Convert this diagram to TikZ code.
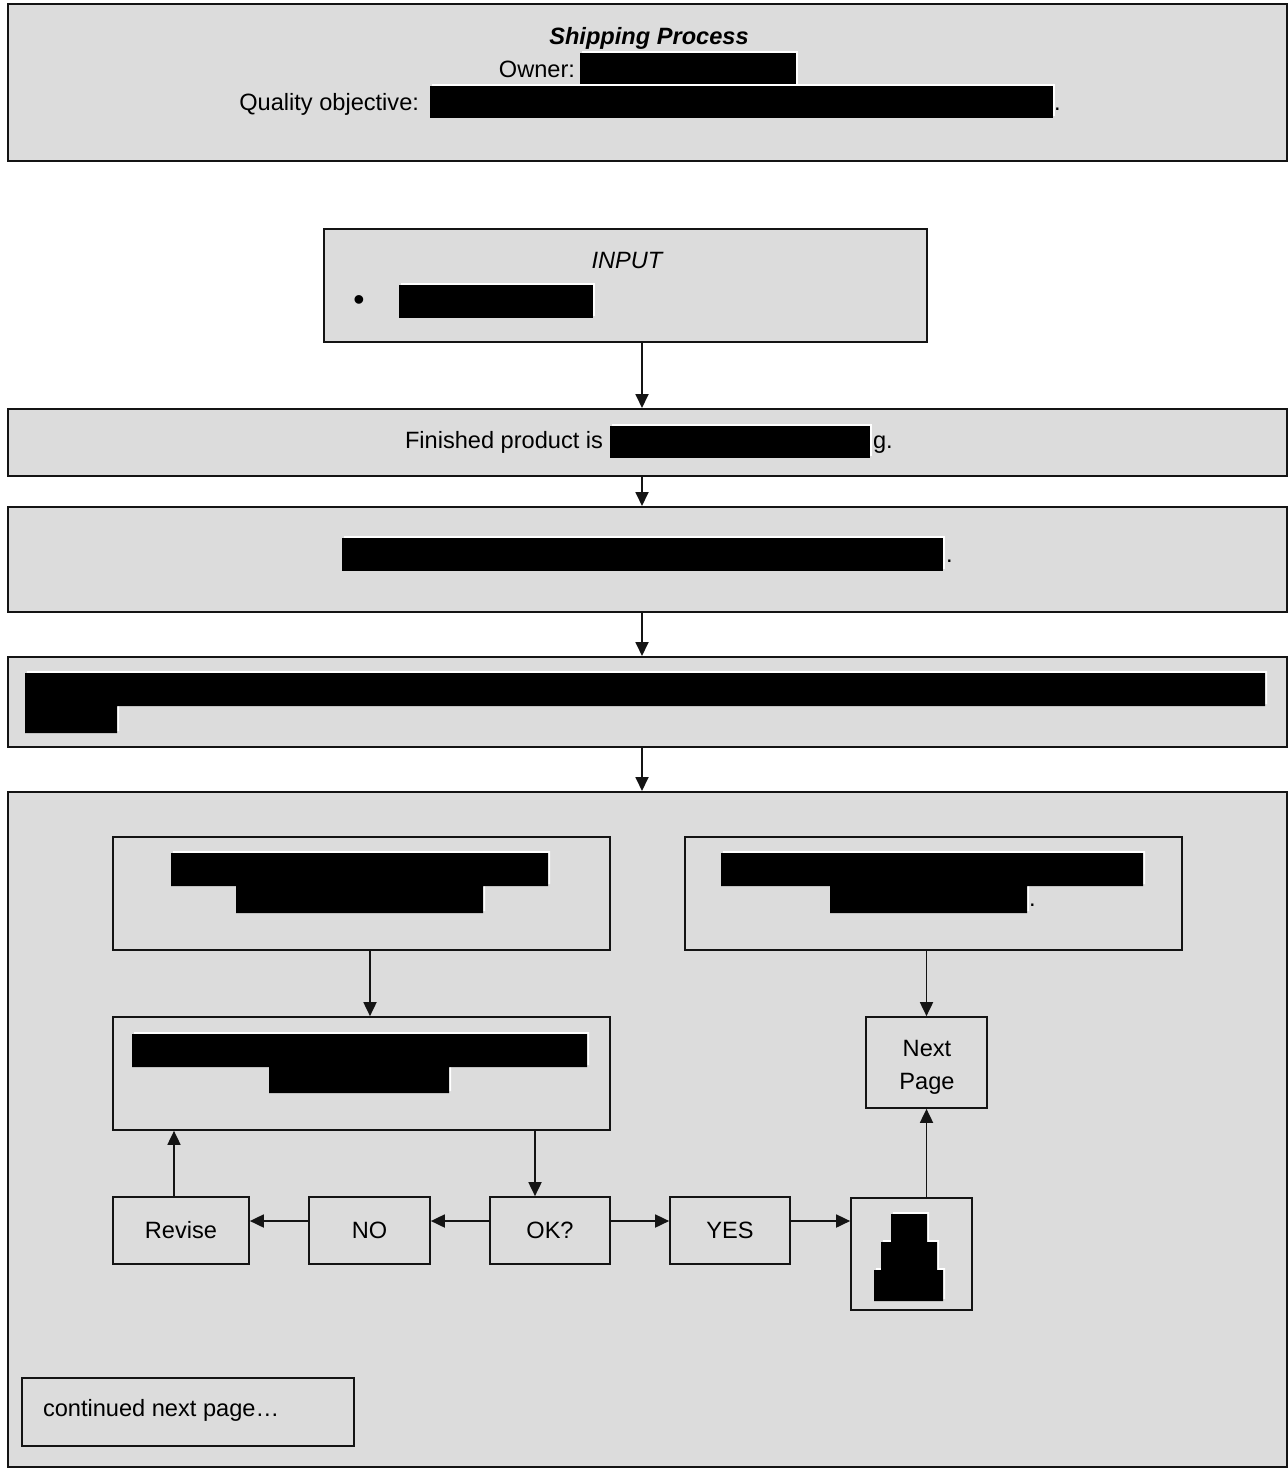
\documentclass[tikz,border=0pt]{standalone}
\usepackage{fontspec}
\setmainfont{Liberation Sans}
\usetikzlibrary{arrows.meta}
\definecolor{panel}{HTML}{DCDCDC}
\definecolor{edge}{HTML}{141414}

% blacked-out text: a white sliver peeks out at the top and right
\newcommand\blot[1]{\fill[white,xshift=2pt,yshift=2pt] #1; \fill[black] #1;}

\begin{document}
\begin{tikzpicture}[x=1pt,y=-1pt,
  every node/.style={font=\fontsize{23.6}{28}\selectfont},
  panelbox/.style={draw=edge, fill=panel, line width=2pt, rectangle, inner sep=0pt},
  flowbox/.style={draw=edge, fill=panel, line width=1.7pt, rectangle, inner sep=0pt},
  txt/.style={inner sep=0pt, outer sep=0pt},
  flowarrow/.style={draw=edge, line width=1.8pt, -{Triangle[length=14pt,width=13pt]}}]
\useasboundingbox (0,0) rectangle (1288,1468);

% header
\node[panelbox, minimum width=1279pt, minimum height=157pt] (header) at (647.5,82.5) {};
\node[txt, anchor=base, font=\fontsize{23.6}{28}\selectfont\bfseries\itshape] (title) at (649,44) {Shipping Process};
\node[txt, anchor=base east] (owner) at (575,77) {Owner:};
\node[txt, anchor=base east] (quality) at (419,110) {Quality objective:};
\node[txt, anchor=base west] (qualitydot) at (1054,110) {.};
\blot{(580,53) rectangle (796,86)}
\blot{(430,86) rectangle (1053,118)}

% input
\node[panelbox, minimum width=603pt, minimum height=113pt] (input) at (625.5,285.5) {};
\node[txt, anchor=base, font=\fontsize{23.6}{28}\selectfont\itshape] (inputlbl) at (627,268) {INPUT};
\node[txt, anchor=base, font=\fontsize{32}{36}\selectfont] (bullet) at (359,310) {•};
\blot{(399,285) rectangle (593,318)}

% process steps
\node[panelbox, minimum width=1279pt, minimum height=67pt] (step1) at (647.5,442.5) {};
\node[txt, anchor=base west] (step1a) at (405,448) {Finished product is};
\node[txt, anchor=base west] (step1b) at (873,448) {g.};
\blot{(610,426) rectangle (870,458)}

\node[panelbox, minimum width=1279pt, minimum height=105pt] (step2) at (647.5,559.5) {};
\node[txt, anchor=base west] (step2dot) at (946,562) {.};
\blot{(342,538) rectangle (943,571)}

\node[panelbox, minimum width=1279pt, minimum height=90pt] (step3) at (647.5,702) {};
\blot{(25,673) rectangle (1265,706) (25,705) rectangle (117,733)}

\node[panelbox, minimum width=1279pt, minimum height=675pt] (main) at (647.5,1129.5) {};

% inner flow
\node[flowbox, minimum width=497pt, minimum height=113pt] (boxA) at (361.5,893.5) {};
\blot{(171,853) rectangle (548,886) (236,885) rectangle (483,913)}

\node[flowbox, minimum width=497pt, minimum height=113pt] (boxB) at (933.5,893.5) {};
\node[txt, anchor=base west] (boxBdot) at (1029,906) {.};
\blot{(721,853) rectangle (1143,886) (830,885) rectangle (1027,913)}

\node[flowbox, minimum width=497pt, minimum height=113pt] (boxC) at (361.5,1073.5) {};
\blot{(132,1034) rectangle (587,1067) (269,1066) rectangle (449,1093)}

\node[flowbox, minimum width=121pt, minimum height=91pt] (next) at (926.5,1062.5) {};
\node[txt, anchor=base] (nextA) at (927,1056) {Next};
\node[txt, anchor=base] (nextB) at (927,1089) {Page};

\node[flowbox, minimum width=136pt, minimum height=67pt] (revise) at (181,1230.5) {};
\node[flowbox, minimum width=121pt, minimum height=67pt] (no) at (369.5,1230.5) {};
\node[flowbox, minimum width=120pt, minimum height=67pt] (ok) at (550,1230.5) {};
\node[flowbox, minimum width=120pt, minimum height=67pt] (yes) at (730,1230.5) {};
\node[txt, anchor=base] (reviselbl) at (181,1238) {Revise};
\node[txt, anchor=base] (nolbl) at (369.5,1238) {NO};
\node[txt, anchor=base] (oklbl) at (550,1238) {OK?};
\node[txt, anchor=base] (yeslbl) at (730,1238) {YES};

\node[flowbox, minimum width=121pt, minimum height=112pt] (stack) at (911.5,1254) {};
\blot{(891,1214) rectangle (927,1243) (881,1242) rectangle (937,1271) (874,1270) rectangle (943,1301)}

\node[flowbox, minimum width=332pt, minimum height=68pt] (cont) at (188,1412) {};
\node[txt, anchor=base west] (contlbl) at (43,1416) {continued next page…};

% connectors
\coordinate (spine) at (642,0);
\draw[flowarrow] (input.south -| spine) -- (step1.north -| spine);
\draw[flowarrow] (step1.south -| spine) -- (step2.north -| spine);
\draw[flowarrow] (step2.south -| spine) -- (step3.north -| spine);
\draw[flowarrow] (step3.south -| spine) -- (main.north -| spine);

\coordinate (colA) at (370,0);
\draw[flowarrow] (boxA.south -| colA) -- (boxC.north -| colA);
\draw[flowarrow] (boxB.south -| next.north) -- (next.north);
\coordinate (colOK) at (535,0);
\draw[flowarrow] (boxC.south -| colOK) -- (ok.north -| colOK);

\coordinate (row) at (0,1221);
\draw[flowarrow] (ok.west |- row) -- (no.east |- row);
\draw[flowarrow] (no.west |- row) -- (revise.east |- row);
\coordinate (colRev) at (174,0);
\draw[flowarrow] (revise.north -| colRev) -- (boxC.south -| colRev);
\draw[flowarrow] (ok.east |- row) -- (yes.west |- row);
\draw[flowarrow] (yes.east |- row) -- (stack.west |- row);
\draw[flowarrow] (stack.north -| next.south) -- (next.south);
\end{tikzpicture}
\end{document}
